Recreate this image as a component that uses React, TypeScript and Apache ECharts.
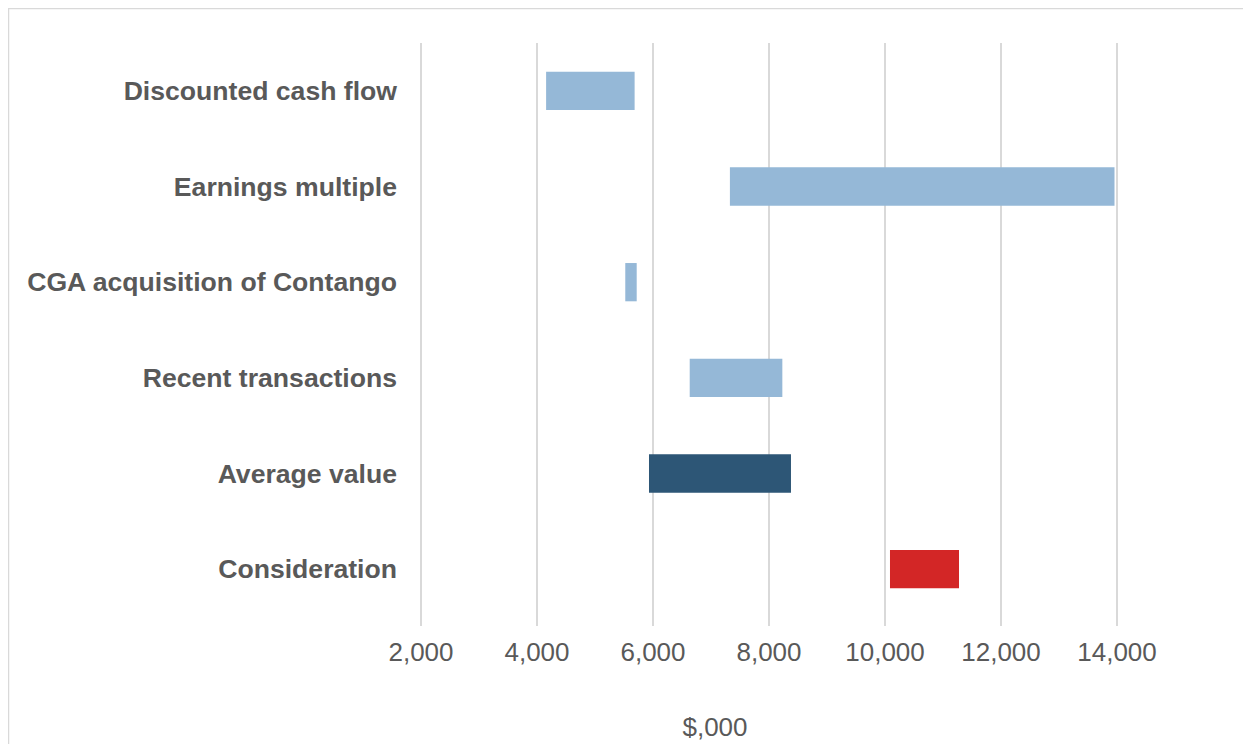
import React, { useEffect, useRef } from "react";
import * as echarts from "echarts";

const categories = [
  "Discounted cash flow",
  "Earnings multiple",
  "CGA acquisition of Contango",
  "Recent transactions",
  "Average value",
  "Consideration",
];
const lowValues = [4157, 7326, 5522, 6633, 5931, 10086];
const highValues = [5683, 13957, 5719, 8230, 8379, 11276];
const barColors = ["#95B8D7", "#95B8D7", "#95B8D7", "#95B8D7", "#2D5676", "#D32626"];
const axisTitle = "$,000";

export default function App() {
  const ref = useRef<HTMLDivElement>(null);
  useEffect(() => {
    if (!ref.current) return;
    const chart = echarts.init(ref.current, undefined, { renderer: "svg" });
    const font = "Liberation Sans, Arial, sans-serif";
    chart.setOption({
      animation: false,
      backgroundColor: "#ffffff",
      grid: [
        { left: 413, right: 134, top: 35, height: 574, containLabel: false },
        { left: 413, right: 134, top: 35, height: 583, containLabel: false },
      ],
      xAxis: [
        {
          gridIndex: 0,
          type: "value",
          min: 2000,
          max: 14000,
          interval: 2000,
          show: false,
          splitLine: { show: false },
        },
        {
          gridIndex: 1,
          type: "value",
          min: 2000,
          max: 14000,
          interval: 2000,
          axisLine: { show: false },
          axisTick: { show: false },
          splitLine: { show: true, lineStyle: { color: "#D9D9D9", width: 2 } },
          axisLabel: {
            color: "#595959",
            fontSize: 26,
            fontFamily: font,
            margin: 13,
            formatter: (v: number) => v.toLocaleString("en-US"),
          },
        },
      ],
      yAxis: [
        {
          gridIndex: 0,
          type: "category",
          data: categories,
          inverse: true,
          axisLine: { show: false },
          axisTick: { show: false },
          splitLine: { show: false },
          axisLabel: {
            color: "#595959",
            fontSize: 26.6,
            fontWeight: "bold",
            fontFamily: font,
            margin: 24,
            padding: [4, 0, 0, 0],
          },
        },
        {
          gridIndex: 1,
          type: "category",
          data: categories,
          show: false,
        },
      ],
      series: [
        {
          type: "bar",
          xAxisIndex: 0,
          yAxisIndex: 0,
          stack: "range",
          barWidth: "40%",
          silent: true,
          itemStyle: { color: "transparent" },
          data: lowValues,
        },
        {
          type: "bar",
          xAxisIndex: 0,
          yAxisIndex: 0,
          stack: "range",
          barWidth: "40%",
          data: highValues.map((h, i) => ({
            value: h - lowValues[i],
            itemStyle: { color: barColors[i] },
          })),
        },
      ],
      graphic: [
        {
          type: "line",
          shape: { x1: 0.5, y1: 0, x2: 0.5, y2: 736 },
          style: { stroke: "#D9D9D9", lineWidth: 1.5 },
        },
        {
          type: "line",
          shape: { x1: 0, y1: 0.5, x2: 1243, y2: 0.5 },
          style: { stroke: "#D9D9D9", lineWidth: 1.5 },
        },
        {
          type: "text",
          x: 707,
          y: 719,
          style: {
            text: axisTitle,
            fill: "#595959",
            font: "26px Liberation Sans, Arial, sans-serif",
            textAlign: "center",
            textVerticalAlign: "middle",
          },
        },
      ],
    });
    return () => chart.dispose();
  }, []);
  return <div ref={ref} style={{ width: 1243, height: 736 }} />;
}
